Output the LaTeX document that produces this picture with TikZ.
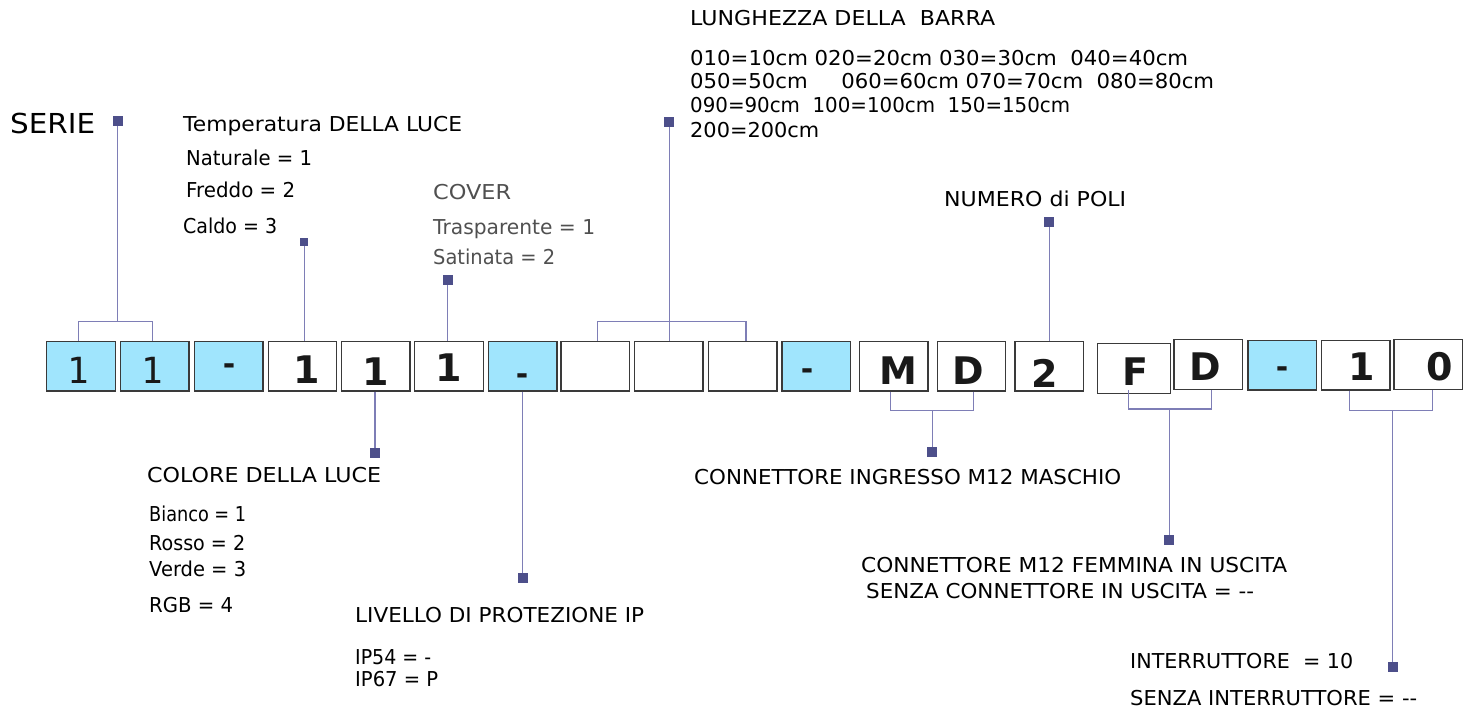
\documentclass[tikz,border=0pt]{standalone}
\usepackage{fontspec}
\usepackage{graphicx}
\setmainfont{DejaVu Sans}
\newfontfamily\digmono{DejaVu Sans Mono}
\definecolor{boxcyan}{HTML}{A0E5FD}
\definecolor{boxline}{HTML}{3A3A3A}
\definecolor{linecol}{HTML}{7E7EB6}
\definecolor{markcol}{HTML}{4D4F8A}
\definecolor{graytxt}{HTML}{505050}
\newcommand{\fitw}[2]{\resizebox{#1pt}{\height}{#2}}
\begin{document}
\begin{tikzpicture}[x=1pt,y=-1pt,
  box/.style={draw=boxline, line width=1.3pt, minimum width=68.5pt, minimum height=49.7pt, inner sep=0pt, fill=white},
  cbox/.style={box, fill=boxcyan},
  mk/.style={fill=markcol, minimum size=10pt, inner sep=0pt},
  mks/.style={fill=markcol, minimum size=8pt, inner sep=0pt},
  conn/.style={draw=linecol, line width=1.3pt},
  lbl/.style={anchor=base west, inner sep=0pt, font=\fontsize{20.5}{24}\selectfont},
  ch/.style={anchor=base, inner sep=0pt, text=black!90, font=\fontsize{38}{40}\selectfont\bfseries},
  dsh/.style={anchor=base, inner sep=0pt, text=black!90, font=\fontsize{30}{32}\selectfont\bfseries},
  chm/.style={anchor=base, inner sep=0pt, text=black!90, font=\fontsize{36}{40}\selectfont\digmono}
]
\useasboundingbox (0,0) rectangle (1471,713);

% boxes
\node[cbox] (b1) at (81,366) {};
\node[cbox] (b2) at (154.7,366) {};
\node[cbox] (b3) at (228.7,366) {};
\node[box] (b4) at (302.5,366) {};
\node[box] (b5) at (375.7,366) {};
\node[box] (b6) at (449,366) {};
\node[cbox] (b7) at (522.8,366) {};
\node[box] (b8) at (595.3,366) {};
\node[box] (b9) at (668.8,366) {};
\node[box] (b10) at (742.7,366) {};
\node[cbox] (b11) at (816.2,366) {};
\node[box] (b12) at (893.8,366) {};
\node[box] (b13) at (971.5,366) {};
\node[box] (b14) at (1049.3,366) {};
\node[box, minimum width=73.4pt] (b15) at (1134,368.3) {};
\node[box] (b16) at (1208.3,364.5) {};
\node[cbox] (b17) at (1282.2,365.2) {};
\node[box] (b18) at (1355.8,365.2) {};
\node[box] (b19) at (1428.3,364.5) {};

% characters
\node[chm] (c1) at (78.3,383) {1};
\node[chm] (c2) at (152.3,383) {1};
\node[dsh] (c3) at (229,374) {-};
\node[ch] (c4) at (306.7,383) {1};
\node[ch] (c5) at (376,385) {1};
\node[ch] (c6) at (448.3,381) {1};
\node[dsh] (c7) at (522,384) {-};
\node[dsh] (c11) at (807,379) {-};
\node[ch] (c12) at (898.3,384) {M};
\node[ch] (c13) at (968,384) {D};
\node[ch] (c14) at (1045,387) {2};
\node[ch] (c15) at (1135,385) {F};
\node[ch] (c16) at (1205,380) {D};
\node[dsh] (c17) at (1282,377) {-};
\node[ch] (c18) at (1362,380) {1};
\node[ch] (c19) at (1440,380) {0};

% markers
\node[mk] (mserie) at (117.7,121) {};
\node[mks] (mtemp) at (304.3,242) {};
\node[mk] (mcover) at (447.7,280) {};
\node[mk] (mlung) at (669.3,122) {};
\node[mk] (mpoli) at (1049.3,222) {};
\node[mk] (mcol) at (375,453) {};
\node[mk] (mip) at (522.7,578) {};
\node[mk] (ming) at (932.3,452) {};
\node[mk] (mfem) at (1169.3,540) {};
\node[mk] (mint) at (1392.7,667) {};

% bracket coordinates
\coordinate (s1) at (78.3,321.7);
\coordinate (s2) at (152.3,321.7);
\coordinate (sc) at (117.7,321.7);
\coordinate (l1) at (597.7,321.7);
\coordinate (l2) at (746,321.7);
\coordinate (lc) at (669.3,321.7);
\coordinate (i1) at (890.7,410.7);
\coordinate (i2) at (973.3,410.7);
\coordinate (ic) at (932.3,410.7);
\coordinate (f1) at (1128.7,409);
\coordinate (f2) at (1211.3,409);
\coordinate (fc) at (1169.3,409);
\coordinate (t1) at (1349.7,410.3);
\coordinate (t2) at (1432.3,410.3);
\coordinate (tc) at (1392.7,410.3);

% connectors
\draw[conn] (b1.north -| s1) -- (s1) -- (s2) -- (b2.north -| s2);
\draw[conn] (mserie) -- (sc);
\draw[conn] (mtemp) -- (b4.north -| mtemp);
\draw[conn] (mcover) -- (b6.north -| mcover);
\draw[conn] (b8.north -| l1) -- (l1) -- (l2) -- (b10.north -| l2);
\draw[conn] (mlung) -- (b9.north -| mlung);
\draw[conn] (mpoli) -- (b14.north -| mpoli);
\draw[conn] (b5.south -| mcol) -- (mcol);
\draw[conn] (b7.south -| mip) -- (mip);
\draw[conn] (b12.south -| i1) -- (i1) -- (i2) -- (b13.south -| i2);
\draw[conn] (ic) -- (ming);
\draw[conn] (b16.south -| f1) -- (f1) -- (f2) -- (b16.south -| f2);
\draw[conn] (fc) -- (mfem);
\draw[conn] (b18.south -| t1) -- (t1) -- (t2) -- (b19.south -| t2);
\draw[conn] (tc) -- (mint);

% labels
\node[lbl, font=\fontsize{27.5}{30}\selectfont] (serie) at (10,133) {\fitw{85}{SERIE}};
\node[lbl] (temp) at (183,131.5) {\fitw{279}{Temperatura DELLA LUCE}};
\node[lbl] (nat) at (186,165) {\fitw{126}{Naturale  = 1}};
\node[lbl] (fre) at (186,197) {\fitw{109}{Freddo = 2}};
\node[lbl] (cal) at (183,233) {\fitw{94}{Caldo = 3}};
\node[lbl, text=graytxt] (cov) at (433,199) {\fitw{78}{COVER}};
\node[lbl, text=graytxt] (tra) at (433,234) {\fitw{162}{Trasparente  = 1}};
\node[lbl, text=graytxt] (sat) at (433,264) {\fitw{122}{Satinata = 2}};
\node[lbl] (lun) at (690,25) {\fitw{305}{LUNGHEZZA DELLA\ \ BARRA}};
\node[lbl] (lr1) at (690,65) {\fitw{498}{010=10cm 020=20cm 030=30cm\ \ 040=40cm}};
\node[lbl] (lr2) at (690,88) {\fitw{524}{050=50cm\ \ \ \ \ 060=60cm 070=70cm\ \ 080=80cm}};
\node[lbl] (lr3) at (690,112) {\fitw{380}{090=90cm\ \ 100=100cm\ \ 150=150cm}};
\node[lbl] (lr4) at (690,137) {\fitw{129}{200=200cm}};
\node[lbl] (pol) at (944,206) {\fitw{182}{NUMERO di POLI}};
\node[lbl] (col) at (147,482) {\fitw{234}{COLORE DELLA LUCE}};
\node[lbl] (bia) at (149,521) {\fitw{97}{Bianco = 1}};
\node[lbl] (ros) at (149,550) {\fitw{96}{Rosso = 2}};
\node[lbl] (ver) at (149,576) {\fitw{97}{Verde = 3}};
\node[lbl] (rgb) at (149,612) {\fitw{84}{RGB = 4}};
\node[lbl] (liv) at (355,622) {\fitw{289}{LIVELLO DI PROTEZIONE IP}};
\node[lbl] (ip54) at (355,664) {\fitw{76}{IP54 = -}};
\node[lbl] (ip67) at (355,686) {\fitw{83}{IP67 = P}};
\node[lbl] (ing) at (694,484) {\fitw{427}{CONNETTORE INGRESSO M12 MASCHIO}};
\node[lbl] (fem) at (861,572) {\fitw{426}{CONNETTORE M12 FEMMINA IN USCITA}};
\node[lbl] (sen) at (866,598) {\fitw{388}{SENZA CONNETTORE IN USCITA = -{}-}};
\node[lbl] (int) at (1130,668) {\fitw{223}{INTERRUTTORE\ \ = 10}};
\node[lbl] (sint) at (1130,705) {\fitw{287}{SENZA INTERRUTTORE = -{}-}};
\end{tikzpicture}
\end{document}
